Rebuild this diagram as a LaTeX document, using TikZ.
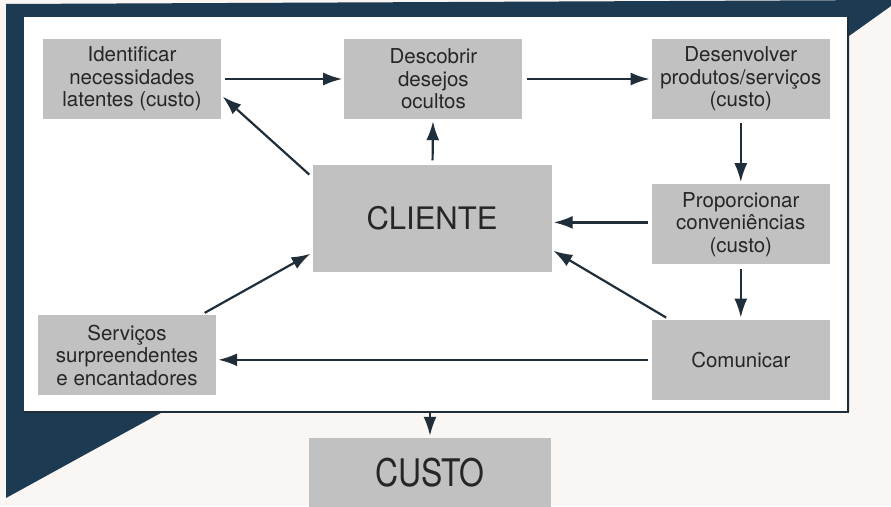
\documentclass[tikz,border=0pt]{standalone}
\usepackage{fontspec}
\setmainfont{TeX Gyre Heros}
\newfontfamily\custofont{TeX Gyre Heros}[FakeStretch=0.84]
\usetikzlibrary{arrows.meta,positioning}
\definecolor{navy}{RGB}{28,58,82}
\definecolor{paper}{RGB}{249,246,243}
\definecolor{boxgray}{RGB}{193,193,193}
\definecolor{ink}{RGB}{32,46,58}

\begin{document}
\begin{tikzpicture}[x=1pt, y=-1pt,
      box/.style={fill=boxgray, align=center, inner sep=0pt, minimum width=178pt, minimum height=80pt, text=black!85, font=\fontsize{20.5}{22.5}\selectfont},
      arr/.style={-{Latex[length=19pt, width=13pt]}, line width=2.2pt, draw=ink, shorten <=4pt, shorten >=2pt}
    ]
      \useasboundingbox (0,0) rectangle (891,506);
      \fill[paper] (0,0) rectangle (891,506);
      \fill[navy] (6,4) -- (891,0) -- (891,6) -- (849,36) -- (849,412) -- (168,409) -- (6,498) -- cycle;
      \node[fill=white, inner sep=0pt, minimum width=824pt, minimum height=395pt] (panel) at (436,214.5) {};
      \draw[line width=1.8pt, ink] (panel.north east) -- (panel.south east) -- (panel.south west);

      \node[box] (ident) at (132,79) {Identificar\\necessidades\\latentes (custo)};
      \node[box, right=123pt of ident] (desc) {Descobrir\\desejos\\ocultos};
      \node[box, right=129pt of desc] (desenv) {Desenvolver\\produtos/serviços\\(custo)};
      \node[box, below=65pt of desenv] (prop) {Proporcionar\\conveniências\\(custo)};
      \node[box, below=55pt of prop] (comun) {Comunicar};
      \node[box] (serv) at (127,355) {Serviços\\surpreendentes\\e encantadores};
      \node[box, minimum width=239pt, minimum height=107pt, font=\fontsize{31}{34}\selectfont] (cliente) at (432,218) {CLIENTE};
      \node[box, minimum width=242pt, minimum height=70pt, font=\custofont\fontsize{38}{40}\selectfont] (custo) at (430,473) {CUSTO};

      \draw[arr] (ident) -- (desc);
      \draw[arr] (desc) -- (desenv);
      \draw[arr] (desenv) -- (prop);
      \draw[arr] (prop) -- (comun);
      \draw[arr] ([yshift=2pt]prop.west) -- ([yshift=2pt]cliente.east |- prop.west);
      \draw[arr] (comun.west) -- (serv.east |- comun.west);
      \draw[arr] ([xshift=18pt]comun.north west) -- ([yshift=22pt]cliente.south east);
      \draw[arr] ([xshift=-15pt]serv.north east) -- ([yshift=19pt]cliente.south west);
      \draw[arr] ([yshift=-13pt]cliente.north west) -- ([yshift=24pt]ident.south east);
      \draw[arr] (cliente) -- (desc);
      \draw[arr, shorten <=0pt] (custo.north |- panel.south) -- (custo.north);
    \end{tikzpicture}
\end{document}
